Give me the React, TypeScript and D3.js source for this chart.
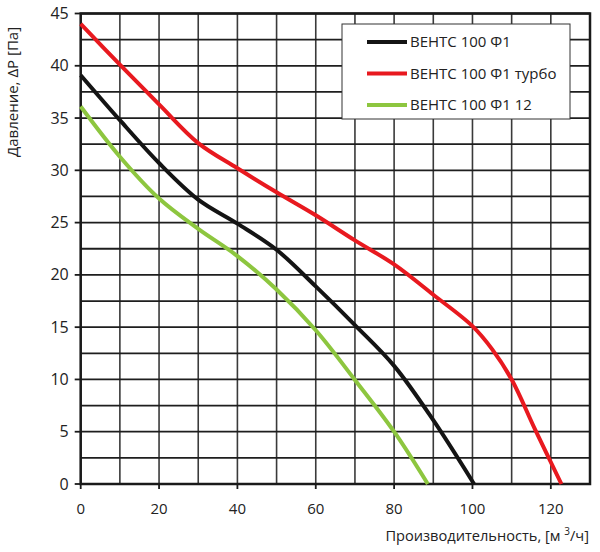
import { useMemo } from 'react';
import * as d3 from 'd3';

// Flow [m3/h] vs pressure [Pa]
const blackX = [0, 10, 20, 30, 40, 50, 60, 70, 80, 90, 100.4];
const blackY = [39.1, 34.8, 30.7, 27.2, 24.9, 22.4, 18.9, 15.2, 11.3, 6.1, 0];

const redX = [0, 10, 20, 30, 40, 50, 60, 70, 80, 90, 100, 105, 110, 116, 122.7];
const redY = [44, 40.1, 36.3, 32.6, 30.2, 27.9, 25.7, 23.3, 21.0, 18.1, 15.1, 12.9, 10.0, 5.2, 0];

const greenX = [0, 10, 20, 30, 40, 50, 60, 70, 80, 88.6];
const greenY = [36.1, 31.3, 27.3, 24.4, 21.8, 18.6, 14.7, 9.95, 5.0, 0];

const seriesNames = ['ВЕНТС 100 Ф1', 'ВЕНТС 100 Ф1 турбо', 'ВЕНТС 100 Ф1 12'];
const seriesColors = ['#141414', '#e8191f', '#8dc63f'];

const xTicks = [0, 20, 40, 60, 80, 100, 120];
const yTicks = [0, 5, 10, 15, 20, 25, 30, 35, 40, 45];
const xGrid = d3.range(0, 131, 10);
const yGrid = d3.range(0, 45.1, 2.5);

const W = 600;
const H = 552;
const font = '"Open Sans", sans-serif';

export default function App() {
  const x = d3.scaleLinear().domain([0, 130]).range([80.7, 590]);
  const y = d3.scaleLinear().domain([0, 45]).range([484, 13.5]);

  const series = useMemo(
    () => [
      blackX.map((v, i) => [v, blackY[i]] as [number, number]),
      redX.map((v, i) => [v, redY[i]] as [number, number]),
      greenX.map((v, i) => [v, greenY[i]] as [number, number]),
    ],
    []
  );

  const line = d3
    .line<[number, number]>()
    .x(d => x(d[0]))
    .y(d => y(d[1]))
    .curve(d3.curveCatmullRom.alpha(0.5));

  const legendX = 342;
  const legendY = 24;

  return (
    <div style={{ position: 'absolute', left: 0, top: 0 }}>
      <svg width={W} height={H} style={{ display: 'block', background: '#fff' }}>
        {/* grid */}
        {xGrid.map(v => (
          <line key={'gx' + v} x1={x(v)} x2={x(v)} y1={y(0)} y2={y(45)} stroke="#3a3a3a" strokeWidth={1.6} />
        ))}
        {yGrid.map(v => (
          <line key={'gy' + v} x1={x(0)} x2={x(130)} y1={y(v)} y2={y(v)} stroke="#1e1e1e" strokeWidth={1.8} />
        ))}

        {/* frame */}
        <rect x={x(0)} y={y(45)} width={x(130) - x(0)} height={y(0) - y(45)} fill="none" stroke="#1a1a1a" strokeWidth={2.5} />

        {/* ticks */}
        {yTicks.map(v => (
          <line key={'ty' + v} x1={x(0) - 6} x2={x(0)} y1={y(v)} y2={y(v)} stroke="#1a1a1a" strokeWidth={1.8} />
        ))}
        {xTicks.map(v => (
          <line key={'tx' + v} x1={x(v)} x2={x(v)} y1={y(0)} y2={y(0) + 5} stroke="#1a1a1a" strokeWidth={1.8} />
        ))}

        {/* curves */}
        {series.map((s, i) => (
          <path key={'s' + i} d={line(s) ?? ''} fill="none" stroke={seriesColors[i]} strokeWidth={4} strokeLinejoin="round" />
        ))}

        {/* tick labels */}
        {yTicks.map(v => (
          <text key={'ly' + v} x={x(0) - 12} y={y(v)} dy="0.35em" textAnchor="end" fontFamily={font} fontSize={16} fill="#222">
            {v}
          </text>
        ))}
        {xTicks.map(v => (
          <text key={'lx' + v} x={x(v)} y={514} textAnchor="middle" fontFamily={font} fontSize={15} fill="#222">
            {v}
          </text>
        ))}

        {/* axis titles */}
        <text
          transform="translate(18,92) rotate(-90)"
          textAnchor="middle"
          fontFamily={font}
          fontSize={15}
          fill="#222"
        >
          Давление, ΔP [Па]
        </text>
        <text x={589} y={541} textAnchor="end" fontFamily={font} fontSize={14.6} fill="#222">
          Производительность, [м <tspan dy={-6} fontSize={10}>3</tspan>
          <tspan dy={6}>/ч]</tspan>
        </text>

        {/* legend */}
        <rect x={legendX} y={legendY} width={228} height={95} fill="#fff" stroke="#333" strokeWidth={1} />
        {seriesNames.map((name, i) => (
          <g key={'lg' + i} transform={`translate(${legendX},${legendY + 18 + i * 31.5})`}>
            <line x1={25} x2={65} y1={0} y2={0} stroke={seriesColors[i]} strokeWidth={4} />
            <text x={68} y={0} dy="0.35em" fontFamily={font} fontSize={15} fill="#222">
              {name}
            </text>
          </g>
        ))}
      </svg>
    </div>
  );
}
